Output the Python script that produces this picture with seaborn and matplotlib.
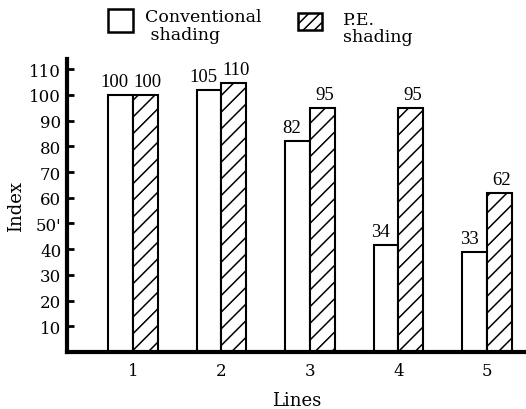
import seaborn as sns
import pandas as pd
import matplotlib.pyplot as plt
import matplotlib.patches as mpatches

lines = ["1", "2", "3", "4", "5"]
# bar heights as drawn in the picture
conventional = [100, 102, 82, 41.5, 39]
pe = [100, 104.5, 95, 95, 62]
# numbers printed above the bars
conventional_labels = ["100", "105", "82", "34", "33"]
pe_labels = ["100", "110", "95", "95", "62"]
yticks = [10, 20, 30, 40, 50, 60, 70, 80, 90, 100, 110]
ytick_labels = ["10", "20", "30", "40", "50'", "60", "70", "80", "90", "100", "110"]

sns.set_style("white", {'text.color': 'black', 'axes.labelcolor': 'black',
                        'xtick.color': 'black', 'ytick.color': 'black'})
plt.rcParams['font.family'] = ['DejaVu Serif']
plt.rcParams['hatch.linewidth'] = 1.1

df = pd.DataFrame({
    'line': lines * 2,
    'index': conventional + pe,
    'method': ['Conventional'] * 5 + ['PE'] * 5,
})

fig = plt.figure(figsize=(5.26, 4.10), dpi=100)
ax = fig.add_axes([0.127, 0.139, 0.873, 0.715])

sns.barplot(data=df, x='line', y='index', hue='method', order=lines,
            hue_order=['Conventional', 'PE'], palette=['white', 'white'],
            width=0.56, edgecolor='black', linewidth=1.5, saturation=1,
            legend=False, ax=ax)

n = len(lines)
for i, bar in enumerate(ax.patches[:2 * n]):
    if i >= n:
        bar.set_hatch('//')
        lab, dx = pe_labels[i - n], 1.5
    else:
        lab, dx = conventional_labels[i], -4
    ax.annotate(lab, (bar.get_x() + bar.get_width() / 2, bar.get_height()),
                xytext=(dx, 3.5), textcoords='offset points', color='black',
                ha='center', va='bottom', fontsize=13.5, family='Liberation Serif')

ax.set_ylim(0, 114)
ax.set_xlim(-0.745, 4.44)
ax.set_yticks(yticks)
ax.set_yticklabels(ytick_labels, fontsize=12)
ax.tick_params(axis='y', direction='in', length=5, width=2, left=True, pad=4, colors='black')
ax.tick_params(axis='x', length=0, labelsize=12, pad=7, colors='black')

for s in ['top', 'right']:
    ax.spines[s].set_visible(False)
for s in ['left', 'bottom']:
    ax.spines[s].set_linewidth(3)
    ax.spines[s].set_color('black')

ax.set_xlabel('Lines', fontsize=13, labelpad=9, color='black')
ax.set_ylabel('Index', fontsize=13, labelpad=3, color='black')

# legend drawn at the top of the figure
fig.patches.append(mpatches.Rectangle((0.2053, 0.9195), 0.0475, 0.056, transform=fig.transFigure,
                                      facecolor='white', edgecolor='black', linewidth=1.8))
fig.patches.append(mpatches.Rectangle((0.5665, 0.9244), 0.0456, 0.0415, transform=fig.transFigure,
                                      facecolor='white', edgecolor='black', linewidth=1.8, hatch='///'))
fig.text(145 / 526, 1 - 9 / 410, 'Conventional\n shading', ha='left', va='top',
         fontsize=12.5, linespacing=1.05, color='black')
fig.text(343 / 526, 1 - 12 / 410, 'P.E.\nshading', ha='left', va='top',
         fontsize=12.5, linespacing=1.0, color='black')

fig.savefig('out.png', dpi=100)
